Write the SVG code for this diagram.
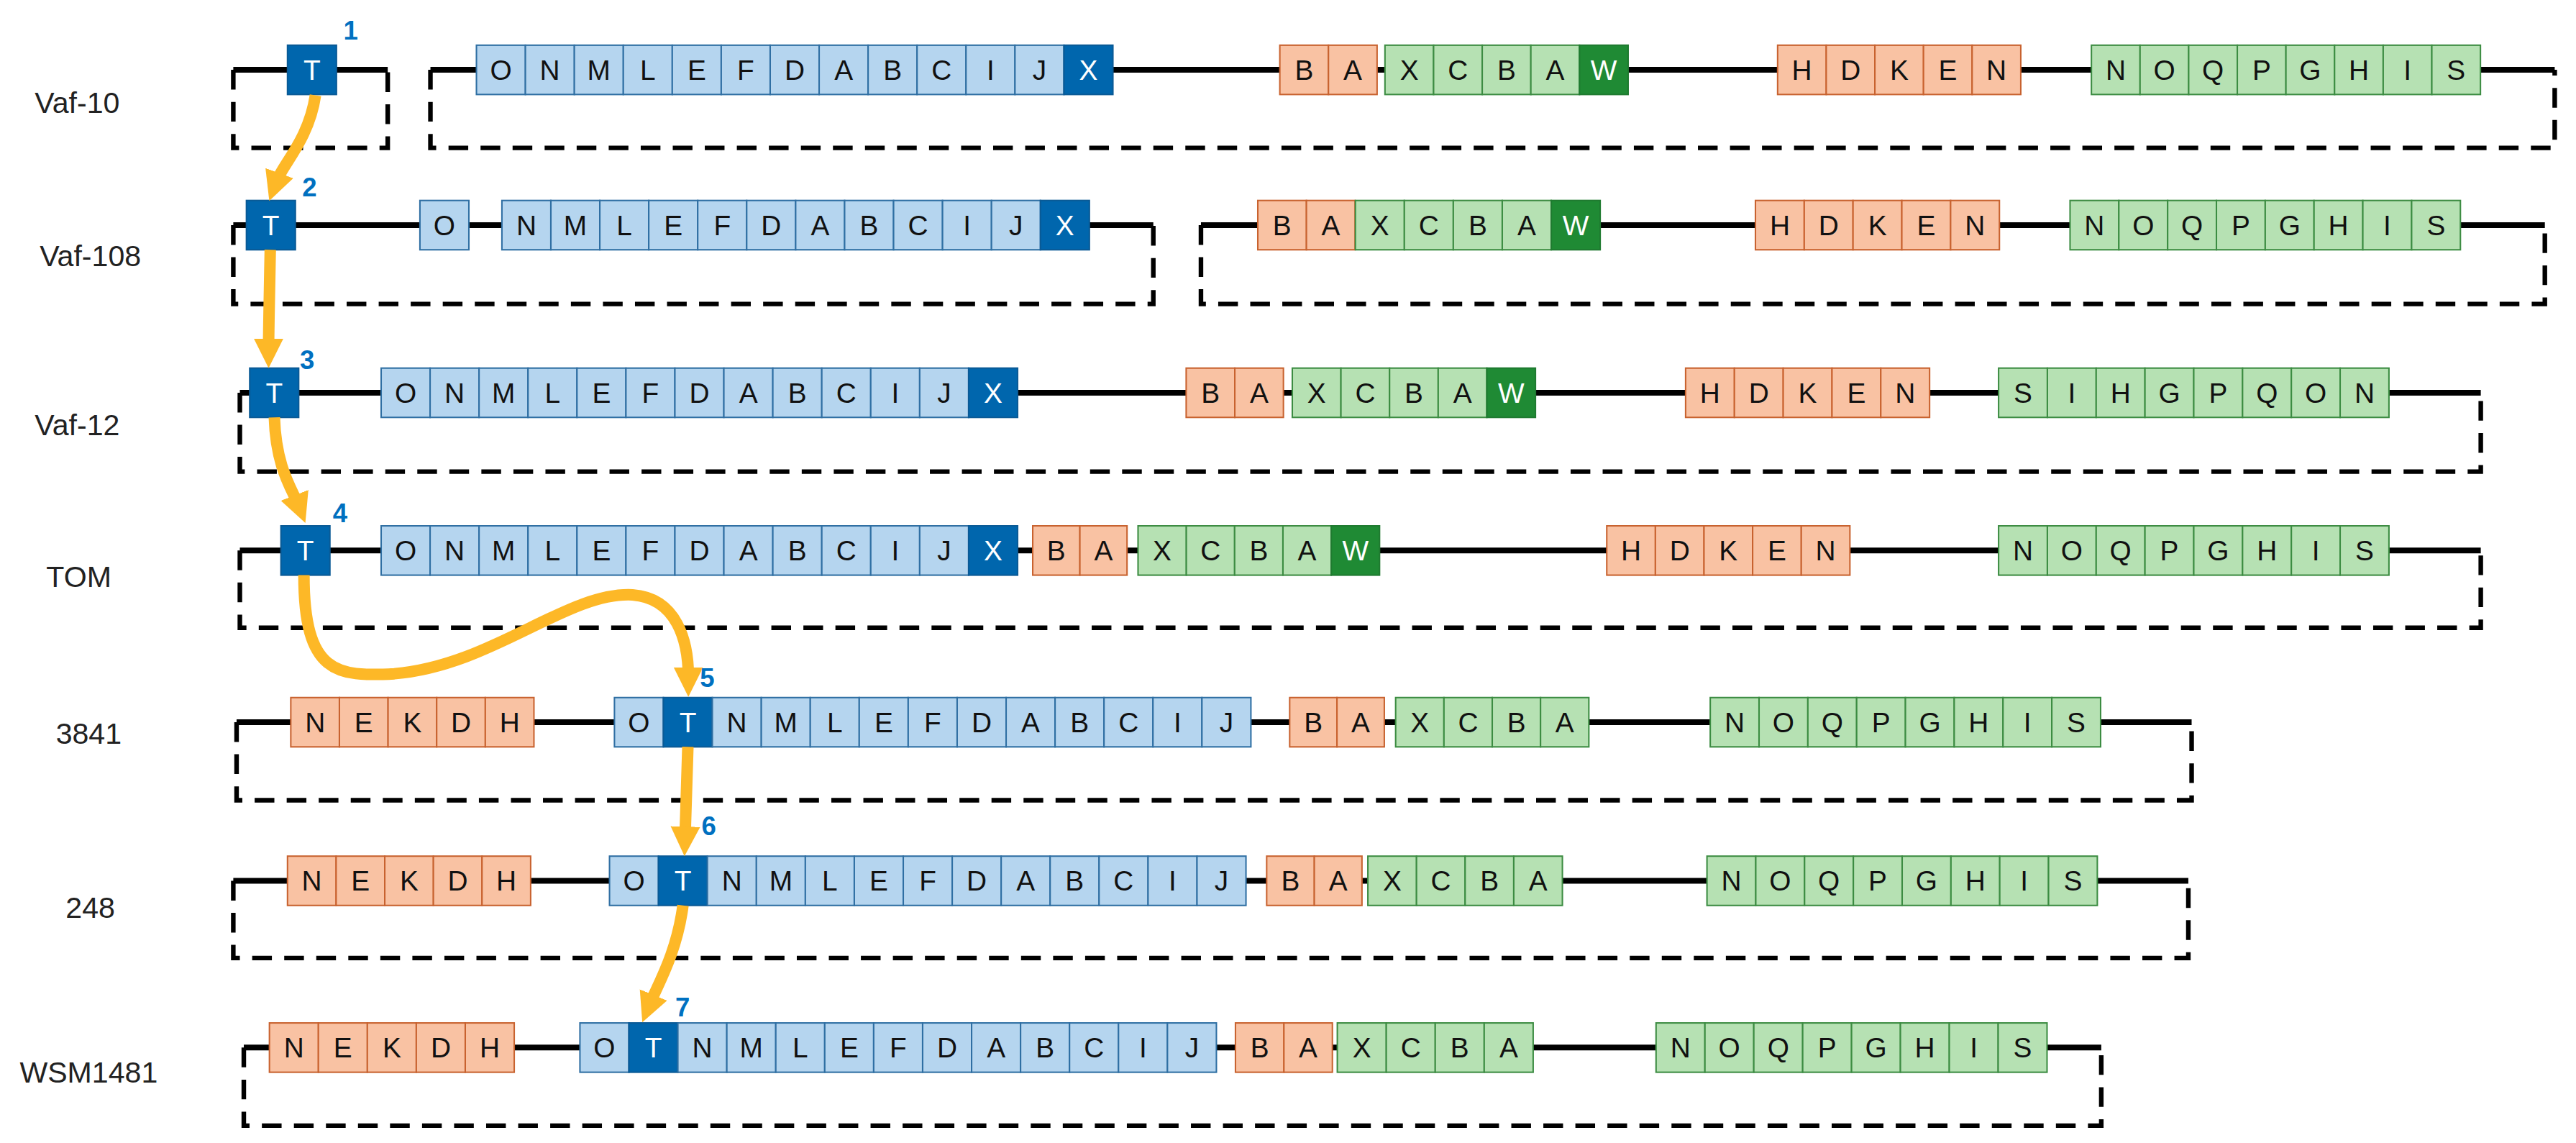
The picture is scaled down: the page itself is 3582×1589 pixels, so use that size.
<svg xmlns="http://www.w3.org/2000/svg" width="3582" height="1589" viewBox="0 0 3582 1589">
<defs>
<style>
.bl{fill:#b5d5ef;stroke:#2f6fa3;stroke-width:0.9}
.bd{fill:#0066ad;stroke:#0a5a96;stroke-width:0.9}
.or{fill:#f9c2a3;stroke:#c8622f;stroke-width:0.9}
.gr{fill:#b6e1b3;stroke:#3c8c42;stroke-width:0.9}
.gd{fill:#1f8a34;stroke:#1f7a30;stroke-width:0.9}
.t{font-family:"Liberation Sans",Arial,sans-serif;font-size:17px;fill:#111;text-anchor:middle}
.tw{font-family:"Liberation Sans",Arial,sans-serif;font-size:17px;fill:#fff;text-anchor:middle}
.lab{font-family:"Liberation Sans",Arial,sans-serif;font-size:18px;fill:#222;text-anchor:middle}
.num{font-family:"Liberation Sans",Arial,sans-serif;font-size:16px;font-weight:bold;fill:#0070c0}
.ln{stroke:#000;stroke-width:3.5;fill:none}
.ds{stroke:#000;stroke-width:2.8;fill:none;stroke-dasharray:12 7.5}
.ar{stroke:#fdb827;stroke-width:7;fill:none}
</style>
<marker id="ah" markerUnits="userSpaceOnUse" markerWidth="20" markerHeight="20" refX="6" refY="9" orient="auto">
<path d="M0,0 L18,9 L0,18 z" fill="#fdb827"/>
</marker>
</defs>
<g transform="scale(2.2845)">
<g id="connectors-backbone">
<path class="ln" d="M142,42.5H236M262,42.5H1555"/>
<path class="ds" d="M142,42.5V90H236V42.5M262,42.5V90H1555V42.5"/>
<path class="ln" d="M142,137H702M731,137H1549"/>
<path class="ds" d="M142,137V185H702V137M731,137V185H1549V137"/>
<path class="ln" d="M146,239H1510"/>
<path class="ds" d="M146,239V287H1510V239"/>
<path class="ln" d="M146,335H1510"/>
<path class="ds" d="M146,335V382H1510V335"/>
<path class="ln" d="M144,439.5H1334"/>
<path class="ds" d="M144,439.5V487H1334V439.5"/>
<path class="ln" d="M142,536H1332"/>
<path class="ds" d="M142,536V583H1332V536"/>
<path class="ln" d="M148.4,637.5H1279"/>
<path class="ds" d="M148.4,637.5V685H1279V637.5"/>
</g>
<g id="labels">
<text class="lab" x="47" y="68.6">Vaf-10</text>
<text class="lab" x="55" y="162">Vaf-108</text>
<text class="lab" x="47" y="265">Vaf-12</text>
<text class="lab" x="48" y="357">TOM</text>
<text class="lab" x="54" y="452.6">3841</text>
<text class="lab" x="55" y="558.6">248</text>
<text class="lab" x="54" y="659">WSM1481</text>
</g>
<g id="row1">
<rect class="bd" x="175" y="27.5" width="29.8" height="30"/><text class="tw" x="189.9" y="48.5">T</text>
<rect class="bl" x="290" y="27.5" width="29.8" height="30"/><text class="t" x="304.9" y="48.5">O</text>
<rect class="bl" x="319.8" y="27.5" width="29.8" height="30"/><text class="t" x="334.7" y="48.5">N</text>
<rect class="bl" x="349.6" y="27.5" width="29.8" height="30"/><text class="t" x="364.5" y="48.5">M</text>
<rect class="bl" x="379.4" y="27.5" width="29.8" height="30"/><text class="t" x="394.3" y="48.5">L</text>
<rect class="bl" x="409.2" y="27.5" width="29.8" height="30"/><text class="t" x="424.1" y="48.5">E</text>
<rect class="bl" x="439" y="27.5" width="29.8" height="30"/><text class="t" x="453.9" y="48.5">F</text>
<rect class="bl" x="468.8" y="27.5" width="29.8" height="30"/><text class="t" x="483.7" y="48.5">D</text>
<rect class="bl" x="498.6" y="27.5" width="29.8" height="30"/><text class="t" x="513.5" y="48.5">A</text>
<rect class="bl" x="528.4" y="27.5" width="29.8" height="30"/><text class="t" x="543.3" y="48.5">B</text>
<rect class="bl" x="558.2" y="27.5" width="29.8" height="30"/><text class="t" x="573.1" y="48.5">C</text>
<rect class="bl" x="588" y="27.5" width="29.8" height="30"/><text class="t" x="602.9" y="48.5">I</text>
<rect class="bl" x="617.8" y="27.5" width="29.8" height="30"/><text class="t" x="632.7" y="48.5">J</text>
<rect class="bd" x="647.6" y="27.5" width="29.8" height="30"/><text class="tw" x="662.5" y="48.5">X</text>
<rect class="or" x="779" y="27.5" width="29.6" height="30"/><text class="t" x="793.8" y="48.5">B</text>
<rect class="or" x="808.6" y="27.5" width="29.6" height="30"/><text class="t" x="823.4" y="48.5">A</text>
<rect class="gr" x="843" y="27.5" width="29.6" height="30"/><text class="t" x="857.8" y="48.5">X</text>
<rect class="gr" x="872.6" y="27.5" width="29.6" height="30"/><text class="t" x="887.4" y="48.5">C</text>
<rect class="gr" x="902.2" y="27.5" width="29.6" height="30"/><text class="t" x="917" y="48.5">B</text>
<rect class="gr" x="931.8" y="27.5" width="29.6" height="30"/><text class="t" x="946.6" y="48.5">A</text>
<rect class="gd" x="961.4" y="27.5" width="29.6" height="30"/><text class="tw" x="976.2" y="48.5">W</text>
<rect class="or" x="1082" y="27.5" width="29.6" height="30"/><text class="t" x="1096.8" y="48.5">H</text>
<rect class="or" x="1111.6" y="27.5" width="29.6" height="30"/><text class="t" x="1126.4" y="48.5">D</text>
<rect class="or" x="1141.2" y="27.5" width="29.6" height="30"/><text class="t" x="1156" y="48.5">K</text>
<rect class="or" x="1170.8" y="27.5" width="29.6" height="30"/><text class="t" x="1185.6" y="48.5">E</text>
<rect class="or" x="1200.4" y="27.5" width="29.6" height="30"/><text class="t" x="1215.2" y="48.5">N</text>
<rect class="gr" x="1273" y="27.5" width="29.6" height="30"/><text class="t" x="1287.8" y="48.5">N</text>
<rect class="gr" x="1302.6" y="27.5" width="29.6" height="30"/><text class="t" x="1317.4" y="48.5">O</text>
<rect class="gr" x="1332.2" y="27.5" width="29.6" height="30"/><text class="t" x="1347" y="48.5">Q</text>
<rect class="gr" x="1361.8" y="27.5" width="29.6" height="30"/><text class="t" x="1376.6" y="48.5">P</text>
<rect class="gr" x="1391.4" y="27.5" width="29.6" height="30"/><text class="t" x="1406.2" y="48.5">G</text>
<rect class="gr" x="1421" y="27.5" width="29.6" height="30"/><text class="t" x="1435.8" y="48.5">H</text>
<rect class="gr" x="1450.6" y="27.5" width="29.6" height="30"/><text class="t" x="1465.4" y="48.5">I</text>
<rect class="gr" x="1480.2" y="27.5" width="29.6" height="30"/><text class="t" x="1495" y="48.5">S</text>
</g>
<g id="row2">
<rect class="bd" x="150" y="122" width="29.8" height="30"/><text class="tw" x="164.9" y="143">T</text>
<rect class="bl" x="255.6" y="122" width="29.8" height="30"/><text class="t" x="270.5" y="143">O</text>
<rect class="bl" x="305.5" y="122" width="29.8" height="30"/><text class="t" x="320.4" y="143">N</text>
<rect class="bl" x="335.3" y="122" width="29.8" height="30"/><text class="t" x="350.2" y="143">M</text>
<rect class="bl" x="365.1" y="122" width="29.8" height="30"/><text class="t" x="380" y="143">L</text>
<rect class="bl" x="394.9" y="122" width="29.8" height="30"/><text class="t" x="409.8" y="143">E</text>
<rect class="bl" x="424.7" y="122" width="29.8" height="30"/><text class="t" x="439.6" y="143">F</text>
<rect class="bl" x="454.5" y="122" width="29.8" height="30"/><text class="t" x="469.4" y="143">D</text>
<rect class="bl" x="484.3" y="122" width="29.8" height="30"/><text class="t" x="499.2" y="143">A</text>
<rect class="bl" x="514.1" y="122" width="29.8" height="30"/><text class="t" x="529" y="143">B</text>
<rect class="bl" x="543.9" y="122" width="29.8" height="30"/><text class="t" x="558.8" y="143">C</text>
<rect class="bl" x="573.7" y="122" width="29.8" height="30"/><text class="t" x="588.6" y="143">I</text>
<rect class="bl" x="603.5" y="122" width="29.8" height="30"/><text class="t" x="618.4" y="143">J</text>
<rect class="bd" x="633.3" y="122" width="29.8" height="30"/><text class="tw" x="648.2" y="143">X</text>
<rect class="or" x="765.6" y="122" width="29.6" height="30"/><text class="t" x="780.4" y="143">B</text>
<rect class="or" x="795.2" y="122" width="29.6" height="30"/><text class="t" x="810" y="143">A</text>
<rect class="gr" x="825" y="122" width="29.8" height="30"/><text class="t" x="839.9" y="143">X</text>
<rect class="gr" x="854.8" y="122" width="29.8" height="30"/><text class="t" x="869.7" y="143">C</text>
<rect class="gr" x="884.6" y="122" width="29.8" height="30"/><text class="t" x="899.5" y="143">B</text>
<rect class="gr" x="914.4" y="122" width="29.8" height="30"/><text class="t" x="929.3" y="143">A</text>
<rect class="gd" x="944.2" y="122" width="29.8" height="30"/><text class="tw" x="959.1" y="143">W</text>
<rect class="or" x="1068.5" y="122" width="29.7" height="30"/><text class="t" x="1083.35" y="143">H</text>
<rect class="or" x="1098.2" y="122" width="29.7" height="30"/><text class="t" x="1113.05" y="143">D</text>
<rect class="or" x="1127.9" y="122" width="29.7" height="30"/><text class="t" x="1142.75" y="143">K</text>
<rect class="or" x="1157.6" y="122" width="29.7" height="30"/><text class="t" x="1172.45" y="143">E</text>
<rect class="or" x="1187.3" y="122" width="29.7" height="30"/><text class="t" x="1202.15" y="143">N</text>
<rect class="gr" x="1260" y="122" width="29.7" height="30"/><text class="t" x="1274.85" y="143">N</text>
<rect class="gr" x="1289.7" y="122" width="29.7" height="30"/><text class="t" x="1304.55" y="143">O</text>
<rect class="gr" x="1319.4" y="122" width="29.7" height="30"/><text class="t" x="1334.25" y="143">Q</text>
<rect class="gr" x="1349.1" y="122" width="29.7" height="30"/><text class="t" x="1363.95" y="143">P</text>
<rect class="gr" x="1378.8" y="122" width="29.7" height="30"/><text class="t" x="1393.65" y="143">G</text>
<rect class="gr" x="1408.5" y="122" width="29.7" height="30"/><text class="t" x="1423.35" y="143">H</text>
<rect class="gr" x="1438.2" y="122" width="29.7" height="30"/><text class="t" x="1453.05" y="143">I</text>
<rect class="gr" x="1467.9" y="122" width="29.7" height="30"/><text class="t" x="1482.75" y="143">S</text>
</g>
<g id="row3">
<rect class="bd" x="152" y="224" width="29.8" height="30"/><text class="tw" x="166.9" y="245">T</text>
<rect class="bl" x="232" y="224" width="29.8" height="30"/><text class="t" x="246.9" y="245">O</text>
<rect class="bl" x="261.8" y="224" width="29.8" height="30"/><text class="t" x="276.7" y="245">N</text>
<rect class="bl" x="291.6" y="224" width="29.8" height="30"/><text class="t" x="306.5" y="245">M</text>
<rect class="bl" x="321.4" y="224" width="29.8" height="30"/><text class="t" x="336.3" y="245">L</text>
<rect class="bl" x="351.2" y="224" width="29.8" height="30"/><text class="t" x="366.1" y="245">E</text>
<rect class="bl" x="381" y="224" width="29.8" height="30"/><text class="t" x="395.9" y="245">F</text>
<rect class="bl" x="410.8" y="224" width="29.8" height="30"/><text class="t" x="425.7" y="245">D</text>
<rect class="bl" x="440.6" y="224" width="29.8" height="30"/><text class="t" x="455.5" y="245">A</text>
<rect class="bl" x="470.4" y="224" width="29.8" height="30"/><text class="t" x="485.3" y="245">B</text>
<rect class="bl" x="500.2" y="224" width="29.8" height="30"/><text class="t" x="515.1" y="245">C</text>
<rect class="bl" x="530" y="224" width="29.8" height="30"/><text class="t" x="544.9" y="245">I</text>
<rect class="bl" x="559.8" y="224" width="29.8" height="30"/><text class="t" x="574.7" y="245">J</text>
<rect class="bd" x="589.6" y="224" width="29.8" height="30"/><text class="tw" x="604.5" y="245">X</text>
<rect class="or" x="722" y="224" width="29.6" height="30"/><text class="t" x="736.8" y="245">B</text>
<rect class="or" x="751.6" y="224" width="29.6" height="30"/><text class="t" x="766.4" y="245">A</text>
<rect class="gr" x="786.6" y="224" width="29.6" height="30"/><text class="t" x="801.4" y="245">X</text>
<rect class="gr" x="816.2" y="224" width="29.6" height="30"/><text class="t" x="831" y="245">C</text>
<rect class="gr" x="845.8" y="224" width="29.6" height="30"/><text class="t" x="860.6" y="245">B</text>
<rect class="gr" x="875.4" y="224" width="29.6" height="30"/><text class="t" x="890.2" y="245">A</text>
<rect class="gd" x="905" y="224" width="29.6" height="30"/><text class="tw" x="919.8" y="245">W</text>
<rect class="or" x="1026" y="224" width="29.7" height="30"/><text class="t" x="1040.85" y="245">H</text>
<rect class="or" x="1055.7" y="224" width="29.7" height="30"/><text class="t" x="1070.55" y="245">D</text>
<rect class="or" x="1085.4" y="224" width="29.7" height="30"/><text class="t" x="1100.25" y="245">K</text>
<rect class="or" x="1115.1" y="224" width="29.7" height="30"/><text class="t" x="1129.95" y="245">E</text>
<rect class="or" x="1144.8" y="224" width="29.7" height="30"/><text class="t" x="1159.65" y="245">N</text>
<rect class="gr" x="1216.5" y="224" width="29.7" height="30"/><text class="t" x="1231.35" y="245">S</text>
<rect class="gr" x="1246.2" y="224" width="29.7" height="30"/><text class="t" x="1261.05" y="245">I</text>
<rect class="gr" x="1275.9" y="224" width="29.7" height="30"/><text class="t" x="1290.75" y="245">H</text>
<rect class="gr" x="1305.6" y="224" width="29.7" height="30"/><text class="t" x="1320.45" y="245">G</text>
<rect class="gr" x="1335.3" y="224" width="29.7" height="30"/><text class="t" x="1350.15" y="245">P</text>
<rect class="gr" x="1365" y="224" width="29.7" height="30"/><text class="t" x="1379.85" y="245">Q</text>
<rect class="gr" x="1394.7" y="224" width="29.7" height="30"/><text class="t" x="1409.55" y="245">O</text>
<rect class="gr" x="1424.4" y="224" width="29.7" height="30"/><text class="t" x="1439.25" y="245">N</text>
</g>
<g id="row4">
<rect class="bd" x="171" y="320" width="29.8" height="30"/><text class="tw" x="185.9" y="341">T</text>
<rect class="bl" x="232" y="320" width="29.8" height="30"/><text class="t" x="246.9" y="341">O</text>
<rect class="bl" x="261.8" y="320" width="29.8" height="30"/><text class="t" x="276.7" y="341">N</text>
<rect class="bl" x="291.6" y="320" width="29.8" height="30"/><text class="t" x="306.5" y="341">M</text>
<rect class="bl" x="321.4" y="320" width="29.8" height="30"/><text class="t" x="336.3" y="341">L</text>
<rect class="bl" x="351.2" y="320" width="29.8" height="30"/><text class="t" x="366.1" y="341">E</text>
<rect class="bl" x="381" y="320" width="29.8" height="30"/><text class="t" x="395.9" y="341">F</text>
<rect class="bl" x="410.8" y="320" width="29.8" height="30"/><text class="t" x="425.7" y="341">D</text>
<rect class="bl" x="440.6" y="320" width="29.8" height="30"/><text class="t" x="455.5" y="341">A</text>
<rect class="bl" x="470.4" y="320" width="29.8" height="30"/><text class="t" x="485.3" y="341">B</text>
<rect class="bl" x="500.2" y="320" width="29.8" height="30"/><text class="t" x="515.1" y="341">C</text>
<rect class="bl" x="530" y="320" width="29.8" height="30"/><text class="t" x="544.9" y="341">I</text>
<rect class="bl" x="559.8" y="320" width="29.8" height="30"/><text class="t" x="574.7" y="341">J</text>
<rect class="bd" x="589.6" y="320" width="29.8" height="30"/><text class="tw" x="604.5" y="341">X</text>
<rect class="or" x="628.6" y="320" width="28.7" height="30"/><text class="t" x="642.95" y="341">B</text>
<rect class="or" x="657.3" y="320" width="28.7" height="30"/><text class="t" x="671.65" y="341">A</text>
<rect class="gr" x="692.7" y="320" width="29.4" height="30"/><text class="t" x="707.4" y="341">X</text>
<rect class="gr" x="722.1" y="320" width="29.4" height="30"/><text class="t" x="736.8" y="341">C</text>
<rect class="gr" x="751.5" y="320" width="29.4" height="30"/><text class="t" x="766.2" y="341">B</text>
<rect class="gr" x="780.9" y="320" width="29.4" height="30"/><text class="t" x="795.6" y="341">A</text>
<rect class="gd" x="810.3" y="320" width="29.4" height="30"/><text class="tw" x="825" y="341">W</text>
<rect class="or" x="978" y="320" width="29.6" height="30"/><text class="t" x="992.8" y="341">H</text>
<rect class="or" x="1007.6" y="320" width="29.6" height="30"/><text class="t" x="1022.4" y="341">D</text>
<rect class="or" x="1037.2" y="320" width="29.6" height="30"/><text class="t" x="1052" y="341">K</text>
<rect class="or" x="1066.8" y="320" width="29.6" height="30"/><text class="t" x="1081.6" y="341">E</text>
<rect class="or" x="1096.4" y="320" width="29.6" height="30"/><text class="t" x="1111.2" y="341">N</text>
<rect class="gr" x="1216.5" y="320" width="29.7" height="30"/><text class="t" x="1231.35" y="341">N</text>
<rect class="gr" x="1246.2" y="320" width="29.7" height="30"/><text class="t" x="1261.05" y="341">O</text>
<rect class="gr" x="1275.9" y="320" width="29.7" height="30"/><text class="t" x="1290.75" y="341">Q</text>
<rect class="gr" x="1305.6" y="320" width="29.7" height="30"/><text class="t" x="1320.45" y="341">P</text>
<rect class="gr" x="1335.3" y="320" width="29.7" height="30"/><text class="t" x="1350.15" y="341">G</text>
<rect class="gr" x="1365" y="320" width="29.7" height="30"/><text class="t" x="1379.85" y="341">H</text>
<rect class="gr" x="1394.7" y="320" width="29.7" height="30"/><text class="t" x="1409.55" y="341">I</text>
<rect class="gr" x="1424.4" y="320" width="29.7" height="30"/><text class="t" x="1439.25" y="341">S</text>
</g>
<g id="row5">
<rect class="or" x="177" y="424.5" width="29.6" height="30"/><text class="t" x="191.8" y="445.5">N</text>
<rect class="or" x="206.6" y="424.5" width="29.6" height="30"/><text class="t" x="221.4" y="445.5">E</text>
<rect class="or" x="236.2" y="424.5" width="29.6" height="30"/><text class="t" x="251" y="445.5">K</text>
<rect class="or" x="265.8" y="424.5" width="29.6" height="30"/><text class="t" x="280.6" y="445.5">D</text>
<rect class="or" x="295.4" y="424.5" width="29.6" height="30"/><text class="t" x="310.2" y="445.5">H</text>
<rect class="bl" x="374" y="424.5" width="29.8" height="30"/><text class="t" x="388.9" y="445.5">O</text>
<rect class="bd" x="403.8" y="424.5" width="29.8" height="30"/><text class="tw" x="418.7" y="445.5">T</text>
<rect class="bl" x="433.6" y="424.5" width="29.8" height="30"/><text class="t" x="448.5" y="445.5">N</text>
<rect class="bl" x="463.4" y="424.5" width="29.8" height="30"/><text class="t" x="478.3" y="445.5">M</text>
<rect class="bl" x="493.2" y="424.5" width="29.8" height="30"/><text class="t" x="508.1" y="445.5">L</text>
<rect class="bl" x="523" y="424.5" width="29.8" height="30"/><text class="t" x="537.9" y="445.5">E</text>
<rect class="bl" x="552.8" y="424.5" width="29.8" height="30"/><text class="t" x="567.7" y="445.5">F</text>
<rect class="bl" x="582.6" y="424.5" width="29.8" height="30"/><text class="t" x="597.5" y="445.5">D</text>
<rect class="bl" x="612.4" y="424.5" width="29.8" height="30"/><text class="t" x="627.3" y="445.5">A</text>
<rect class="bl" x="642.2" y="424.5" width="29.8" height="30"/><text class="t" x="657.1" y="445.5">B</text>
<rect class="bl" x="672" y="424.5" width="29.8" height="30"/><text class="t" x="686.9" y="445.5">C</text>
<rect class="bl" x="701.8" y="424.5" width="29.8" height="30"/><text class="t" x="716.7" y="445.5">I</text>
<rect class="bl" x="731.6" y="424.5" width="29.8" height="30"/><text class="t" x="746.5" y="445.5">J</text>
<rect class="or" x="785" y="424.5" width="28.8" height="30"/><text class="t" x="799.4" y="445.5">B</text>
<rect class="or" x="813.8" y="424.5" width="28.8" height="30"/><text class="t" x="828.2" y="445.5">A</text>
<rect class="gr" x="849.5" y="424.5" width="29.4" height="30"/><text class="t" x="864.2" y="445.5">X</text>
<rect class="gr" x="878.9" y="424.5" width="29.4" height="30"/><text class="t" x="893.6" y="445.5">C</text>
<rect class="gr" x="908.3" y="424.5" width="29.4" height="30"/><text class="t" x="923" y="445.5">B</text>
<rect class="gr" x="937.7" y="424.5" width="29.4" height="30"/><text class="t" x="952.4" y="445.5">A</text>
<rect class="gr" x="1041" y="424.5" width="29.7" height="30"/><text class="t" x="1055.85" y="445.5">N</text>
<rect class="gr" x="1070.7" y="424.5" width="29.7" height="30"/><text class="t" x="1085.55" y="445.5">O</text>
<rect class="gr" x="1100.4" y="424.5" width="29.7" height="30"/><text class="t" x="1115.25" y="445.5">Q</text>
<rect class="gr" x="1130.1" y="424.5" width="29.7" height="30"/><text class="t" x="1144.95" y="445.5">P</text>
<rect class="gr" x="1159.8" y="424.5" width="29.7" height="30"/><text class="t" x="1174.65" y="445.5">G</text>
<rect class="gr" x="1189.5" y="424.5" width="29.7" height="30"/><text class="t" x="1204.35" y="445.5">H</text>
<rect class="gr" x="1219.2" y="424.5" width="29.7" height="30"/><text class="t" x="1234.05" y="445.5">I</text>
<rect class="gr" x="1248.9" y="424.5" width="29.7" height="30"/><text class="t" x="1263.75" y="445.5">S</text>
</g>
<g id="row6">
<rect class="or" x="175" y="521" width="29.6" height="30"/><text class="t" x="189.8" y="542">N</text>
<rect class="or" x="204.6" y="521" width="29.6" height="30"/><text class="t" x="219.4" y="542">E</text>
<rect class="or" x="234.2" y="521" width="29.6" height="30"/><text class="t" x="249" y="542">K</text>
<rect class="or" x="263.8" y="521" width="29.6" height="30"/><text class="t" x="278.6" y="542">D</text>
<rect class="or" x="293.4" y="521" width="29.6" height="30"/><text class="t" x="308.2" y="542">H</text>
<rect class="bl" x="371" y="521" width="29.8" height="30"/><text class="t" x="385.9" y="542">O</text>
<rect class="bd" x="400.8" y="521" width="29.8" height="30"/><text class="tw" x="415.7" y="542">T</text>
<rect class="bl" x="430.6" y="521" width="29.8" height="30"/><text class="t" x="445.5" y="542">N</text>
<rect class="bl" x="460.4" y="521" width="29.8" height="30"/><text class="t" x="475.3" y="542">M</text>
<rect class="bl" x="490.2" y="521" width="29.8" height="30"/><text class="t" x="505.1" y="542">L</text>
<rect class="bl" x="520" y="521" width="29.8" height="30"/><text class="t" x="534.9" y="542">E</text>
<rect class="bl" x="549.8" y="521" width="29.8" height="30"/><text class="t" x="564.7" y="542">F</text>
<rect class="bl" x="579.6" y="521" width="29.8" height="30"/><text class="t" x="594.5" y="542">D</text>
<rect class="bl" x="609.4" y="521" width="29.8" height="30"/><text class="t" x="624.3" y="542">A</text>
<rect class="bl" x="639.2" y="521" width="29.8" height="30"/><text class="t" x="654.1" y="542">B</text>
<rect class="bl" x="669" y="521" width="29.8" height="30"/><text class="t" x="683.9" y="542">C</text>
<rect class="bl" x="698.8" y="521" width="29.8" height="30"/><text class="t" x="713.7" y="542">I</text>
<rect class="bl" x="728.6" y="521" width="29.8" height="30"/><text class="t" x="743.5" y="542">J</text>
<rect class="or" x="771" y="521" width="29" height="30"/><text class="t" x="785.5" y="542">B</text>
<rect class="or" x="800" y="521" width="29" height="30"/><text class="t" x="814.5" y="542">A</text>
<rect class="gr" x="832.6" y="521" width="29.6" height="30"/><text class="t" x="847.4" y="542">X</text>
<rect class="gr" x="862.2" y="521" width="29.6" height="30"/><text class="t" x="877" y="542">C</text>
<rect class="gr" x="891.8" y="521" width="29.6" height="30"/><text class="t" x="906.6" y="542">B</text>
<rect class="gr" x="921.4" y="521" width="29.6" height="30"/><text class="t" x="936.2" y="542">A</text>
<rect class="gr" x="1039" y="521" width="29.7" height="30"/><text class="t" x="1053.85" y="542">N</text>
<rect class="gr" x="1068.7" y="521" width="29.7" height="30"/><text class="t" x="1083.55" y="542">O</text>
<rect class="gr" x="1098.4" y="521" width="29.7" height="30"/><text class="t" x="1113.25" y="542">Q</text>
<rect class="gr" x="1128.1" y="521" width="29.7" height="30"/><text class="t" x="1142.95" y="542">P</text>
<rect class="gr" x="1157.8" y="521" width="29.7" height="30"/><text class="t" x="1172.65" y="542">G</text>
<rect class="gr" x="1187.5" y="521" width="29.7" height="30"/><text class="t" x="1202.35" y="542">H</text>
<rect class="gr" x="1217.2" y="521" width="29.7" height="30"/><text class="t" x="1232.05" y="542">I</text>
<rect class="gr" x="1246.9" y="521" width="29.7" height="30"/><text class="t" x="1261.75" y="542">S</text>
</g>
<g id="row7">
<rect class="or" x="164" y="622.5" width="29.8" height="30"/><text class="t" x="178.9" y="643.5">N</text>
<rect class="or" x="193.8" y="622.5" width="29.8" height="30"/><text class="t" x="208.7" y="643.5">E</text>
<rect class="or" x="223.6" y="622.5" width="29.8" height="30"/><text class="t" x="238.5" y="643.5">K</text>
<rect class="or" x="253.4" y="622.5" width="29.8" height="30"/><text class="t" x="268.3" y="643.5">D</text>
<rect class="or" x="283.2" y="622.5" width="29.8" height="30"/><text class="t" x="298.1" y="643.5">H</text>
<rect class="bl" x="353" y="622.5" width="29.8" height="30"/><text class="t" x="367.9" y="643.5">O</text>
<rect class="bd" x="382.8" y="622.5" width="29.8" height="30"/><text class="tw" x="397.7" y="643.5">T</text>
<rect class="bl" x="412.6" y="622.5" width="29.8" height="30"/><text class="t" x="427.5" y="643.5">N</text>
<rect class="bl" x="442.4" y="622.5" width="29.8" height="30"/><text class="t" x="457.3" y="643.5">M</text>
<rect class="bl" x="472.2" y="622.5" width="29.8" height="30"/><text class="t" x="487.1" y="643.5">L</text>
<rect class="bl" x="502" y="622.5" width="29.8" height="30"/><text class="t" x="516.9" y="643.5">E</text>
<rect class="bl" x="531.8" y="622.5" width="29.8" height="30"/><text class="t" x="546.7" y="643.5">F</text>
<rect class="bl" x="561.6" y="622.5" width="29.8" height="30"/><text class="t" x="576.5" y="643.5">D</text>
<rect class="bl" x="591.4" y="622.5" width="29.8" height="30"/><text class="t" x="606.3" y="643.5">A</text>
<rect class="bl" x="621.2" y="622.5" width="29.8" height="30"/><text class="t" x="636.1" y="643.5">B</text>
<rect class="bl" x="651" y="622.5" width="29.8" height="30"/><text class="t" x="665.9" y="643.5">C</text>
<rect class="bl" x="680.8" y="622.5" width="29.8" height="30"/><text class="t" x="695.7" y="643.5">I</text>
<rect class="bl" x="710.6" y="622.5" width="29.8" height="30"/><text class="t" x="725.5" y="643.5">J</text>
<rect class="or" x="752" y="622.5" width="29.5" height="30"/><text class="t" x="766.75" y="643.5">B</text>
<rect class="or" x="781.5" y="622.5" width="29.5" height="30"/><text class="t" x="796.25" y="643.5">A</text>
<rect class="gr" x="814" y="622.5" width="29.8" height="30"/><text class="t" x="828.9" y="643.5">X</text>
<rect class="gr" x="843.8" y="622.5" width="29.8" height="30"/><text class="t" x="858.7" y="643.5">C</text>
<rect class="gr" x="873.6" y="622.5" width="29.8" height="30"/><text class="t" x="888.5" y="643.5">B</text>
<rect class="gr" x="903.4" y="622.5" width="29.8" height="30"/><text class="t" x="918.3" y="643.5">A</text>
<rect class="gr" x="1008" y="622.5" width="29.75" height="30"/><text class="t" x="1022.9" y="643.5">N</text>
<rect class="gr" x="1037.75" y="622.5" width="29.75" height="30"/><text class="t" x="1052.6" y="643.5">O</text>
<rect class="gr" x="1067.5" y="622.5" width="29.75" height="30"/><text class="t" x="1082.4" y="643.5">Q</text>
<rect class="gr" x="1097.25" y="622.5" width="29.75" height="30"/><text class="t" x="1112.1" y="643.5">P</text>
<rect class="gr" x="1127" y="622.5" width="29.75" height="30"/><text class="t" x="1141.9" y="643.5">G</text>
<rect class="gr" x="1156.75" y="622.5" width="29.75" height="30"/><text class="t" x="1171.6" y="643.5">H</text>
<rect class="gr" x="1186.5" y="622.5" width="29.75" height="30"/><text class="t" x="1201.4" y="643.5">I</text>
<rect class="gr" x="1216.25" y="622.5" width="29.75" height="30"/><text class="t" x="1231.1" y="643.5">S</text>
</g>
<g id="connectors">
<path class="ar" marker-end="url(#ah)" d="M192,58 C188,85 172,100 168,111"/>
<path class="ar" marker-end="url(#ah)" d="M164.5,152 C164,180 163.5,200 163.5,212"/>
<path class="ar" marker-end="url(#ah)" d="M167,254 C168,285 178,298 181.5,307"/>
<path class="ar" marker-end="url(#ah)" d="M185,350 C185,410 205,412 240,410 C300,405 345,360 385,362 C412,364 419,390 419,412"/>
<path class="ar" marker-end="url(#ah)" d="M418.7,454.5 L417,509"/>
<path class="ar" marker-end="url(#ah)" d="M415.7,551 C412,580 400,600 395.5,611"/>
</g>
<g id="numbers">
<text class="num" x="209" y="24">1</text>
<text class="num" x="184" y="119.5">2</text>
<text class="num" x="182.5" y="224.6">3</text>
<text class="num" x="202.6" y="318">4</text>
<text class="num" x="426" y="418">5</text>
<text class="num" x="427" y="508">6</text>
<text class="num" x="411" y="618.6">7</text>
</g>
</g>
</svg>
